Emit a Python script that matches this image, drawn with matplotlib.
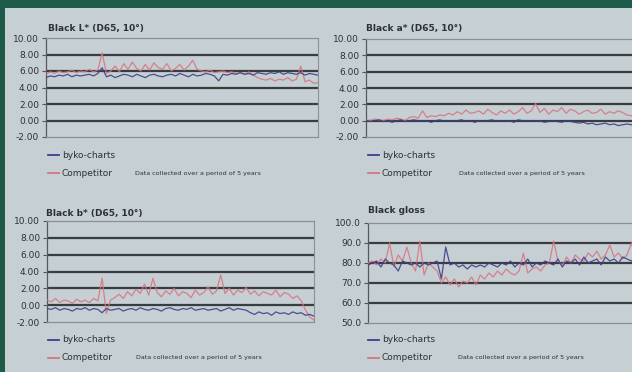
"""
Black colour / gloss stability charts: byko-charts vs competitor (4 panels)
"""

import numpy as np
import matplotlib.pyplot as plt
from matplotlib.lines import Line2D
from matplotlib.patches import Rectangle

W, H = 632, 372

# === values ===
L_byko = [5.2, 5.4, 5.3, 5.5, 5.4, 5.6, 5.3, 5.5, 5.4, 5.5, 5.6, 5.4, 5.7, 6.4, 5.3, 5.5,
          5.2, 5.4, 5.6, 5.5, 5.3, 5.6, 5.4, 5.2, 5.5, 5.6, 5.4, 5.3, 5.5, 5.6, 5.4, 5.7,
          5.5, 5.3, 5.6, 5.4, 5.5, 5.7, 5.6, 5.4, 4.8, 5.6, 5.5, 5.7, 5.6, 5.8, 5.6, 5.7,
          5.5, 5.8, 5.7, 5.6, 5.8, 5.7, 5.9, 5.6, 5.8, 5.7, 5.6, 5.8, 5.5, 5.7, 5.6, 5.5]
L_comp = [5.6, 5.9, 5.7, 6.0, 5.8, 5.9, 6.1, 5.8, 6.0, 5.9, 6.2, 5.9, 6.1, 8.2, 5.7, 6.0,
          6.6, 5.9, 6.9, 6.2, 7.1, 6.3, 6.0, 6.8, 6.1, 7.0, 6.4, 6.2, 6.9, 6.0, 6.3, 6.8,
          6.1, 6.6, 7.3, 6.2, 6.0, 5.9, 6.1, 5.8, 5.9, 6.0, 5.8, 5.9, 5.7, 5.8, 5.6, 5.9,
          5.5, 5.2, 5.0, 4.9, 5.1, 4.8, 5.0, 4.9, 5.2, 4.8, 5.0, 6.6, 4.7, 4.9, 4.5, 4.6]

a_byko = [0.0, -0.1, 0.0, 0.1, -0.1, 0.0, -0.2, 0.0, 0.1, -0.1, 0.0, 0.1, 0.0, -0.1, 0.0, -0.2,
          0.0, 0.1, -0.1, 0.0, -0.1, 0.0, 0.1, -0.1, 0.0, -0.2, 0.0, -0.1, 0.0, 0.1, -0.1, 0.0,
          -0.1, 0.0, -0.2, 0.1, 0.0, -0.1, 0.0, -0.1, 0.0, -0.2, -0.1, 0.0, -0.1, -0.2, 0.0, -0.1,
          -0.2, -0.3, -0.2, -0.4, -0.3, -0.5, -0.4, -0.3, -0.5, -0.4, -0.6, -0.5, -0.4, -0.5, -0.3, -0.4]
a_comp = [0.1, 0.0, 0.2, 0.1, 0.0, 0.2, 0.1, 0.3, 0.2, 0.0, 0.4, 0.5, 0.3, 1.2, 0.4, 0.6,
          0.5, 0.7, 0.6, 0.9, 0.7, 1.1, 0.8, 1.3, 0.9, 1.0, 1.2, 0.8, 1.4, 1.0, 0.7, 1.2,
          0.9, 1.3, 0.8, 1.1, 1.6, 0.9, 1.2, 2.1, 1.0, 1.5, 0.8, 1.3, 1.1, 1.6, 0.9, 1.4,
          1.2, 0.8, 1.1, 1.3, 0.9, 1.0, 1.4, 0.8, 1.1, 0.9, 1.2, 1.0, 0.7, 0.6, 0.5, 0.4]

b_byko = [-0.4, -0.5, -0.3, -0.6, -0.4, -0.5, -0.7, -0.4, -0.5, -0.3, -0.6, -0.4, -0.5, -0.9, -0.4, -0.6,
          -0.5, -0.4, -0.7, -0.5, -0.4, -0.6, -0.3, -0.5, -0.6, -0.4, -0.5, -0.7, -0.4, -0.3, -0.5, -0.6,
          -0.4, -0.5, -0.3, -0.6, -0.5, -0.4, -0.6, -0.5, -0.4, -0.7, -0.5, -0.3, -0.6, -0.4, -0.5, -0.6,
          -0.9, -1.1, -0.8, -1.0, -0.9, -1.2, -0.8, -1.0, -0.9, -1.1, -0.8, -1.0, -0.9, -1.2, -1.1, -1.3]
b_comp = [0.6, 0.4, 0.8, 0.3, 0.6, 0.5, 0.2, 0.7, 0.4, 0.6, 0.3, 0.8, 0.5, 3.2, -1.0, 0.6,
          0.9, 1.3, 0.8, 1.6, 1.1, 1.9, 1.4, 2.5, 1.2, 3.2, 1.5, 1.0, 1.7, 1.3, 2.0, 1.1,
          1.6, 1.4, 0.9, 1.8, 1.2, 1.5, 2.2, 1.3, 1.7, 3.6, 1.4, 2.0, 1.2, 1.8, 1.5, 2.1,
          1.3, 1.7, 1.1, 1.6, 1.4, 1.2, 1.8, 1.0, 1.5, 1.3, 0.8, 1.1, 0.5, -0.6, -1.4, -1.8]

gloss_byko = [79, 80, 81, 78, 82, 80, 79, 76, 81, 80, 79, 80, 78, 80, 79, 80,
              81, 72, 88, 79, 80, 78, 79, 77, 79, 78, 79, 78, 80, 79, 78, 80,
              79, 81, 78, 80, 79, 82, 78, 80, 79, 81, 80, 79, 82, 78, 81, 80,
              82, 79, 83, 80, 81, 82, 79, 83, 81, 82, 80, 83, 82, 81, 83, 82]
gloss_comp = [80, 81, 79, 82, 80, 90, 78, 84, 81, 88, 80, 76, 91, 74, 80, 78,
              76, 70, 73, 69, 72, 68, 71, 70, 73, 69, 74, 72, 75, 73, 76, 74,
              77, 75, 74, 76, 85, 75, 77, 78, 76, 79, 80, 91, 81, 79, 83, 80,
              84, 82, 81, 85, 83, 86, 82, 84, 89, 83, 85, 82, 84, 90, 83, 85]

titles = ["Black L* (D65, 10°)", "Black a* (D65, 10°)", "Black b* (D65, 10°)", "Black gloss"]
color_ticks = [10, 8, 6, 4, 2, 0, -2]
gloss_ticks = [100, 90, 80, 70, 60, 50]
series_names = ["byko-charts", "Competitor"]
note = "Data collected over a period of 5 years"

GREEN = "#1d5b48"
PANEL = "#c6cfd3"
BLUE = "#3c3f8c"
RED = "#d9727c"
GRID = "#3a3d3f"
TEXT = "#2e3133"

fig = plt.figure(figsize=(W / 100, H / 100), dpi=100)
fig.patch.set_facecolor(GREEN)
fig.patches.append(Rectangle((5 / W, 0), 1, 1 - 8 / H, transform=fig.transFigure,
                             facecolor=PANEL, edgecolor="none", zorder=-10))


def px(x, y):
    return x / W, 1 - y / H


# (left, top, right, bottom) in pixels, title pos, legend pos, note x
panels = [
    dict(box=(46, 38, 318, 137), data=(L_byko, L_comp), ticks=color_ticks, fmt="{:.2f}",
         title=(48, 28), leg=(48, 155), note_x=135),
    dict(box=(366, 39, 640, 137), data=(a_byko, a_comp), ticks=color_ticks, fmt="{:.2f}",
         title=(366, 28), leg=(368, 155), note_x=459),
    dict(box=(47, 221, 314, 322), data=(b_byko, b_comp), ticks=color_ticks, fmt="{:.2f}",
         title=(46, 213), leg=(48, 340), note_x=136),
    dict(box=(368, 223, 640, 323), data=(gloss_byko, gloss_comp), ticks=gloss_ticks, fmt="{:.1f}",
         title=(368, 210), leg=(368, 340), note_x=458),
]

for p, title in zip(panels, titles):
    l, t, r, b = p["box"]
    ax = fig.add_axes([l / W, 1 - b / H, (r - l) / W, (b - t) / H])
    ax.set_facecolor("none")
    byko, comp = p["data"]
    ax.plot(np.arange(len(comp)), comp, color=RED, lw=0.9, alpha=0.85, zorder=3)
    ax.plot(np.arange(len(byko)), byko, color=BLUE, lw=0.9, alpha=0.9, zorder=4)
    ticks = p["ticks"]
    ax.set_ylim(min(ticks), max(ticks))
    ax.set_xlim(0, len(byko) - 1)
    for v in ticks[1:-1]:
        ax.axhline(v, color=GRID, lw=1.6, zorder=2)
    ax.set_yticks(ticks)
    ax.set_yticklabels([p["fmt"].format(v) for v in ticks], fontsize=6.5, color=TEXT)
    ax.tick_params(axis="y", length=3, width=0.8, color="#555", pad=2)
    ax.set_xticks([])
    for side in ("top", "bottom"):
        ax.spines[side].set_color("#8a9094")
        ax.spines[side].set_linewidth(0.9)
    ax.spines["left"].set_color("#55595c")
    ax.spines["left"].set_linewidth(0.9)
    ax.spines["right"].set_color("#8a9094")
    ax.spines["right"].set_linewidth(0.8)

    tx, ty = px(*p["title"])
    fig.text(tx, ty, title, fontsize=6.5, fontweight="bold", color=TEXT, va="center")

    lx, ly = p["leg"]
    for i, (name, col) in enumerate(zip(series_names, [BLUE, RED])):
        yy = ly + i * 18
        x0, y0 = px(lx, yy)
        x1, _ = px(lx + 11, yy)
        fig.lines.append(Line2D([x0, x1], [y0, y0], transform=fig.transFigure,
                                color=col, lw=1.3))
        fig.text(px(lx + 14, yy)[0], y0, name, fontsize=6.5, color=TEXT, va="center")
    nx, ny = px(p["note_x"], ly + 18)
    fig.text(nx, ny, note, fontsize=4.6, color=TEXT, va="center")

fig.savefig("out.png", dpi=100, facecolor=fig.get_facecolor())
